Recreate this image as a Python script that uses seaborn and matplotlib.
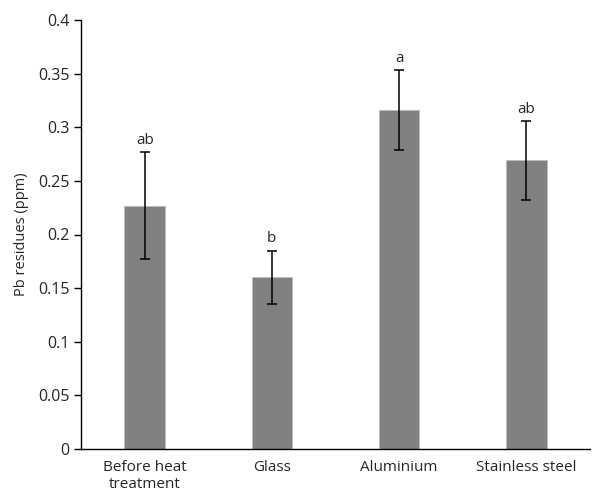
import numpy as np
import pandas as pd
import matplotlib
matplotlib.use("Agg")
import matplotlib.pyplot as plt
import seaborn as sns
from matplotlib.ticker import FixedLocator, MultipleLocator

categories = ["Before heat\ntreatment", "Glass", "Aluminium", "Stainless steel"]
pb_mean = [0.227, 0.160, 0.316, 0.269]
pb_err = [0.050, 0.025, 0.037, 0.037]
letters = ["ab", "b", "a", "ab"]

df = pd.DataFrame({"material": categories, "pb": pb_mean})

sns.set_style("white")
plt.rcParams["font.family"] = ["Open Sans", "DejaVu Sans"]

fig, ax = plt.subplots(figsize=(6.05, 5.0), dpi=100)
fig.subplots_adjust(left=0.134, right=0.975, top=0.96, bottom=0.102)

sns.barplot(data=df, x="material", y="pb", color="#808080", saturation=1,
            width=0.32, errorbar=None, edgecolor="#bdbdbd", linewidth=0.6, ax=ax)

x = np.arange(len(categories))
ax.errorbar(x, pb_mean, yerr=pb_err, fmt="none", ecolor="black",
            elinewidth=1.1, capsize=3.5, capthick=1.1)

for i, lab in enumerate(letters):
    ax.text(i, pb_mean[i] + pb_err[i] + 0.004, lab, ha="center", va="bottom",
            fontsize=11, color="#262626")

ax.set_xlim(-0.5, len(categories) - 0.5)
ax.set_ylim(0, 0.4)
ax.yaxis.set_major_locator(MultipleLocator(0.05))
ax.set_yticklabels([f"{v:g}" for v in ax.get_yticks()])
ax.xaxis.set_minor_locator(FixedLocator(np.arange(-0.5, len(categories), 1.0)))
ax.tick_params(axis="x", which="major", length=0, pad=8, labelsize=11, labelcolor="#262626")
ax.tick_params(axis="x", which="minor", length=5, width=1, direction="out", color="black")
ax.tick_params(axis="y", length=5, width=1, direction="out", left=True,
               labelsize=11.5, labelcolor="#262626", color="black")

ax.set_xlabel("")
ax.set_ylabel("Pb residues (ppm)", fontsize=10.5, color="#262626", labelpad=6)

sns.despine(ax=ax)
for s in ["left", "bottom"]:
    ax.spines[s].set_color("black")
    ax.spines[s].set_linewidth(1)

fig.savefig("out.png", dpi=100)
